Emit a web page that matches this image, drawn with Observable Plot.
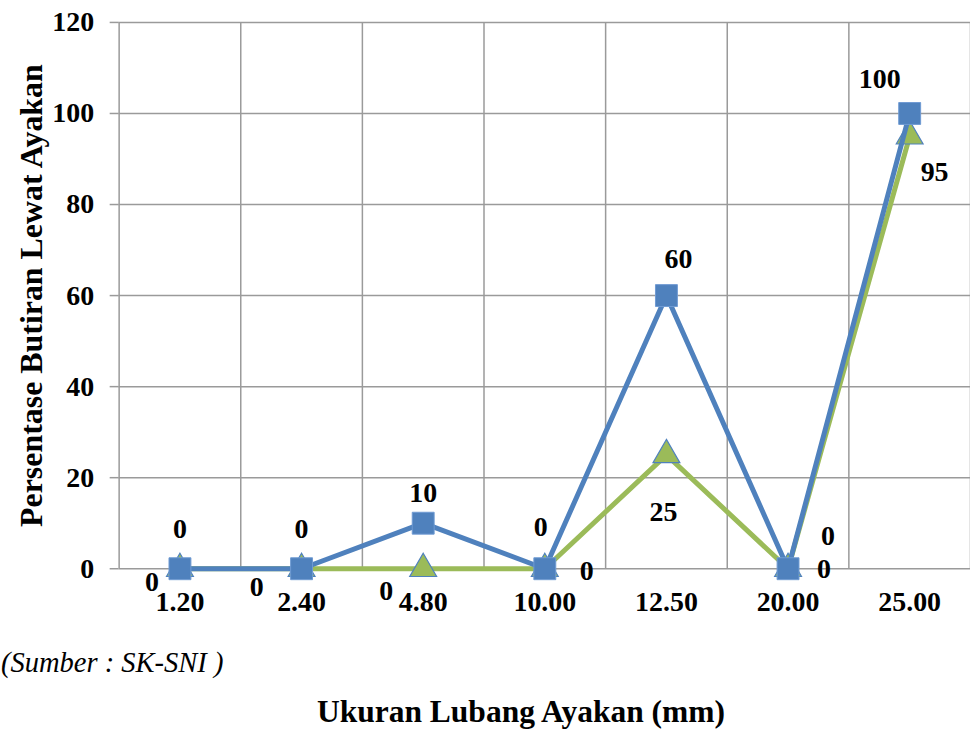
<!DOCTYPE html>
<html>
<head>
<meta charset="utf-8">
<script src="https://cdn.jsdelivr.net/npm/d3@7"></script>
<script src="https://cdn.jsdelivr.net/npm/@observablehq/plot@0.6"></script>
<style>
  body { margin: 0; background: #fff; overflow: hidden; width: 970px; height: 732px; position: relative;
         font-family: "Liberation Serif", "Times New Roman", serif; color: #000; }
  #chart { position: absolute; left: 0; top: 0; }
  .caption { position: absolute; left: 1px; top: 649px; font-style: italic; font-size: 28.5px; line-height: 28px; white-space: nowrap; }
  .xtitle { position: absolute; left: 521px; top: 696px; transform: translateX(-50%); font-weight: bold; font-size: 31.5px; line-height: 31.5px; white-space: nowrap; }
</style>
</head>
<body>
<div id="chart"></div>
<div class="caption">(Sumber : SK-SNI )</div>
<div class="xtitle">Ukuran Lubang Ayakan (mm)</div>
<script>
// Sieve opening sizes (mm) and percentage passing for the two gradations
const sieveSizes = ["1.20", "2.40", "4.80", "10.00", "12.50", "20.00", "25.00"];
const upperPassing = [0, 0, 10, 0, 60, 0, 100];
const lowerPassing = [0, 0, 0, 0, 25, 0, 95];
const yTicks = [0, 20, 40, 60, 80, 100, 120];
const yTitle = "Persentase Butiran Lewat Ayakan";

const BLUE = "#4F81BD";
const GREEN = "#9BBB59";
const GRID = "#9a9a9a";

const idx = d3.range(sieveSizes.length);
const bounds = d3.range(sieveSizes.length + 1).map(i => i - 0.5);

// value-label nudges (pixels) for each point, so labels sit clear of the lines
const upperNudge = [[0, -40], [0, -40], [0, -30], [-4, -42], [12, -37], [40, -33], [-30, -35]];
const lowerNudge = [[-28, 13], [-45, 18], [-37, 22], [42, 2], [-3, 57], [36, 0], [25, 36]];

function valueLabels(values, nudge) {
  return idx.map(i => Plot.text([i], {
    x: d => d, y: d => values[d], text: d => String(values[d]),
    dx: nudge[i][0], dy: nudge[i][1],
    fontSize: 28, fontWeight: "bold", fill: "#000",
    textAnchor: "middle", lineAnchor: "middle"
  }));
}

const chart = Plot.plot({
  width: 973,
  height: 630,
  marginTop: 22,
  marginBottom: 60,
  marginLeft: 119,
  marginRight: 0,
  style: { fontFamily: "Liberation Serif, Times New Roman, serif", fontSize: "28px", fontWeight: "bold", background: "white", overflow: "visible", color: "#000" },
  x: { type: "linear", domain: [-0.5, sieveSizes.length - 0.5], axis: null },
  y: { domain: [0, 120], axis: null },
  marks: [
    // grid
    Plot.ruleY(yTicks, { x1: -0.5, x2: sieveSizes.length - 0.5, stroke: GRID, strokeWidth: 1.5 }),
    Plot.ruleX(bounds, { y1: 0, y2: 120, stroke: GRID, strokeWidth: 1.5 }),
    // axes
    Plot.axisY({ ticks: yTicks, tickSize: 9, tickPadding: 16, stroke: GRID, strokeWidth: 1.5, label: null, fontSize: 28 }),
    Plot.axisX({ ticks: idx, tickFormat: i => sieveSizes[i], tickSize: 0, tickPadding: 23, label: null, fontSize: 28 }),
    Plot.text([yTitle], { frameAnchor: "left", rotate: -90, dx: -88, textAnchor: "middle", lineAnchor: "middle", fontSize: 32, fontWeight: "bold", fill: "#000" }),
    // lower gradation (triangles)
    Plot.line(idx, { x: d => d, y: d => lowerPassing[d], stroke: GREEN, strokeWidth: 5 }),
    Plot.dot(idx, { x: d => d, y: d => lowerPassing[d], symbol: "triangle", r: 10, fill: GREEN, stroke: BLUE, strokeWidth: 1.2 }),
    // upper gradation (squares)
    Plot.line(idx, { x: d => d, y: d => upperPassing[d], stroke: BLUE, strokeWidth: 5 }),
    Plot.dot(idx, { x: d => d, y: d => upperPassing[d], symbol: "square", r: 12.4, fill: BLUE, stroke: "#6f9bd3", strokeWidth: 1 }),
    // value labels
    ...valueLabels(upperPassing, upperNudge),
    ...valueLabels(lowerPassing, lowerNudge)
  ]
});
document.getElementById("chart").appendChild(chart);
</script>
</body>
</html>
